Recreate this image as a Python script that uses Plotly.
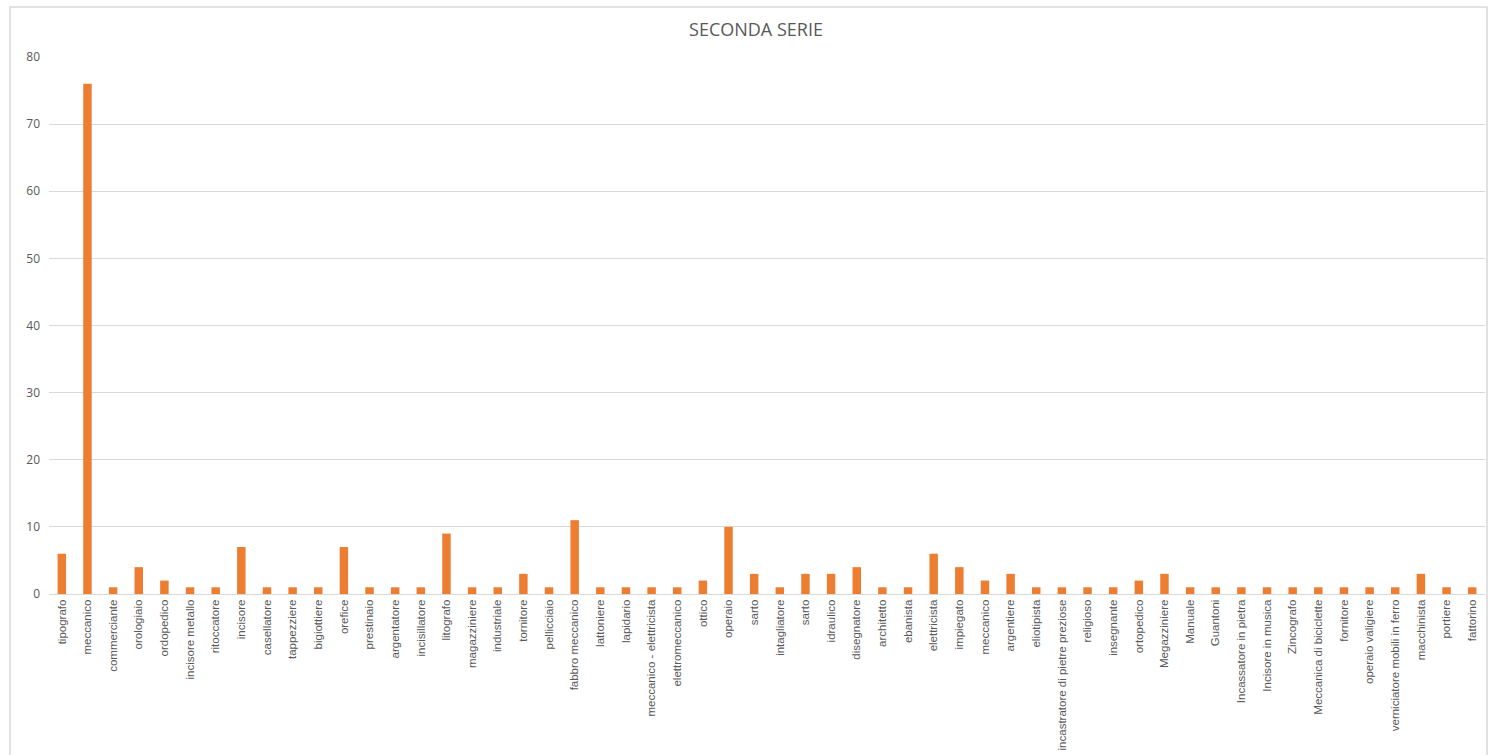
import plotly.graph_objects as go

# Occupations (x categories) and counts for the second series
mestieri = [
    "tipografo", "meccanico", "commerciante", "orologiaio", "ordopedico",
    "incisore metallo", "ritoccatore", "incisore", "casellatore", "tappezziere",
    "bigiottiere", "orefice", "prestinaio", "argentatore", "incisillatore",
    "litografo", "magazziniere", "industriale", "tornitore", "pellicciaio",
    "fabbro meccanico", "lattoniere", "lapidario", "meccanico - elettricista",
    "elettromeccanico", "ottico", "operaio", "sarto", "intagliatore", "sarto",
    "idraulico", "disegnatore", "architetto", "ebanista", "elettricista",
    "impiegato", "meccanico", "argentiere", "eliotipista",
    "incastratore di pietre preziose", "religioso", "insegnante", "ortopedico",
    "Megazziniere", "Manuale", "Guantoni", "Incassatore in pietra",
    "Incisore in musica", "Zincografo", "Meccanica di biciclette", "fornitore",
    "operaio valigiere", "verniciatore mobili in ferro", "macchinista",
    "portiere", "fattorino",
]
conteggi = [
    6, 76, 1, 4, 2,
    1, 1, 7, 1, 1,
    1, 7, 1, 1, 1,
    9, 1, 1, 3, 1,
    11, 1, 1, 1,
    1, 2, 10, 3, 1, 3,
    3, 4, 1, 1, 6,
    4, 2, 3, 1,
    1, 1, 1, 2,
    3, 1, 1, 1,
    1, 1, 1, 1,
    1, 1, 3,
    1, 1,
]
y_ticks = [0, 10, 20, 30, 40, 50, 60, 70, 80]

# Numeric positions so repeated names (sarto, meccanico) stay separate bars
posizioni = list(range(len(mestieri)))

W, H = 1490, 755
L, R, T, B = 49, 5, 57, 161
pw = W - L - R
ph = H - T - B

fig = go.Figure(
    go.Bar(
        x=posizioni,
        y=conteggi,
        marker=dict(color="#ED7D31", line=dict(width=0)),
        width=0.33,
        hoverinfo="x+y",
    )
)

grey = "#595959"
fig.update_layout(
    width=W,
    height=H,
    margin=dict(l=L, r=R, t=T, b=B, autoexpand=False),
    paper_bgcolor="white",
    plot_bgcolor="white",
    showlegend=False,
    title=dict(
        text="SECONDA SERIE",
        x=(756 - L) / pw, xref="paper", xanchor="center",
        y=1 - 30 / H, yref="container", yanchor="middle",
        font=dict(family="Open Sans, Liberation Sans, sans-serif", size=18, color=grey),
    ),
    xaxis=dict(
        range=[-0.5, len(mestieri) - 0.5],
        tickmode="array",
        tickvals=posizioni,
        ticktext=mestieri,
        tickangle=-90,
        tickfont=dict(family="Liberation Sans Narrow, Arial Narrow, sans-serif", size=11.5, color=grey),
        showgrid=False,
        showline=True,
        linecolor="#D9D9D9",
        linewidth=1,
        ticks="",
        zeroline=False,
        automargin=False,
    ),
    yaxis=dict(
        range=[0, 80],
        tickmode="array",
        tickvals=y_ticks,
        tickfont=dict(family="Open Sans, Liberation Sans, sans-serif", size=12, color=grey),
        showgrid=True,
        gridcolor="#D9D9D9",
        gridwidth=1,
        zeroline=False,
        showline=False,
        ticks="",
        ticklabelstandoff=8,
        automargin=False,
    ),
    bargap=0.65,
)

# Light frame around the chart area
fig.add_shape(
    type="rect", xref="paper", yref="paper",
    x0=(10 - L) / pw, x1=(1487 - L) / pw,
    y0=-(H + 20 - T - ph) / ph, y1=1 + (T - 7) / ph,
    line=dict(color="#D9D9D9", width=1.5),
    fillcolor="rgba(0,0,0,0)",
    layer="below",
)

fig.write_html("out.html")
